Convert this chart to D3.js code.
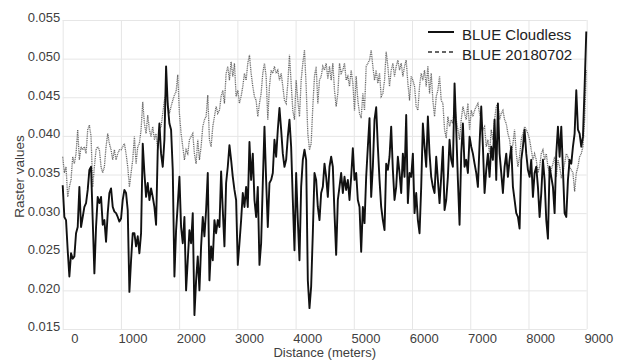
<!DOCTYPE html>
<html>
<head>
<meta charset="utf-8">
<script src="https://cdn.jsdelivr.net/npm/d3@7"></script>
<style>
  body { margin: 0; background: #fff; }
  svg { display: block; font-family: "Liberation Sans", Arial, sans-serif; }
</style>
</head>
<body>
<svg id="chart" width="623" height="360"></svg>
<script>
// profile sampled every ~28.6 m, starting at the left edge of the plot
const startDistance = -200;
const sampleSpacing = 28.64;

const cloudless = [
  0.0336,0.0295,0.0291,0.0252,0.0218,0.0248,0.0241,0.0244,0.0274,0.0282,
  0.0334,0.0282,0.0295,0.0308,0.0313,0.0330,0.0356,0.0360,0.0291,0.0222,
  0.0282,0.0321,0.0313,0.0321,0.0285,0.0291,0.0263,0.0300,0.0326,0.0332,
  0.0308,0.0302,0.0300,0.0295,0.0289,0.0293,0.0317,0.0330,0.0326,0.0304,
  0.0198,0.0239,0.0274,0.0274,0.0257,0.0270,0.0248,0.0274,0.0390,0.0352,
  0.0321,0.0339,0.0317,0.0332,0.0321,0.0308,0.0285,0.0382,0.0416,0.0377,
  0.0360,0.0395,0.0490,0.0440,0.0416,0.0408,0.0356,0.0218,0.0278,0.0311,
  0.0347,0.0282,0.0261,0.0295,0.0200,0.0239,0.0278,0.0261,0.0300,
  0.0168,0.0213,0.0244,0.0200,0.0257,0.0295,0.0270,0.0304,0.0352,0.0213,
  0.0257,0.0239,0.0291,0.0274,0.0291,0.0282,0.0354,0.0304,0.0257,0.0339,
  0.0360,0.0388,0.0369,0.0347,0.0330,0.0317,0.0233,0.0261,0.0291,0.0326,
  0.0308,0.0334,0.0308,0.0392,0.0343,0.0377,0.0317,0.0295,0.0334,0.0233,
  0.0261,0.0339,0.0412,0.0343,0.0282,0.0339,0.0343,0.0352,0.0395,0.0373,
  0.0408,0.0436,0.0408,0.0377,0.0360,0.0369,0.0399,0.0421,0.0386,0.0317,
  0.0252,0.0352,0.0291,0.0239,0.0334,0.0369,0.0382,0.0369,0.0213,0.0177,
  0.0205,0.0274,0.0352,0.0343,0.0308,0.0291,0.0326,0.0334,0.0364,
  0.0347,0.0321,0.0360,0.0373,0.0360,0.0300,0.0246,0.0317,0.0334,0.0352,
  0.0326,0.0347,0.0330,0.0343,0.0317,0.0347,0.0384,0.0343,0.0352,0.0317,
  0.0308,0.0250,0.0308,0.0287,0.0347,0.0386,0.0423,0.0321,0.0360,0.0421,
  0.0437,0.0386,0.0343,0.0308,0.0291,0.0278,0.0364,0.0356,0.0373,0.0412,
  0.0356,0.0317,0.0334,0.0373,0.0352,0.0326,0.0377,0.0347,0.0427,0.0313,
  0.0352,0.0347,0.0377,0.0300,0.0326,0.0291,0.0274,0.0334,0.0416,0.0386,
  0.0360,0.0425,0.0377,0.0347,0.0334,0.0326,0.0373,0.0343,0.0313,0.0347,
  0.0386,0.0304,0.0317,0.0347,0.0395,0.0369,0.0360,0.0468,
  0.0408,0.0343,0.0285,0.0377,0.0416,0.0360,0.0369,0.0352,0.0399,0.0386,
  0.0377,0.0364,0.0352,0.0334,0.0390,0.0438,0.0386,0.0326,0.0356,0.0377,
  0.0347,0.0386,0.0369,0.0421,0.0343,0.0442,0.0377,0.0352,0.0326,0.0360,
  0.0377,0.0347,0.0369,0.0386,0.0334,0.0317,0.0300,0.0295,0.0280,0.0369,
  0.0386,0.0408,0.0377,0.0356,0.0347,0.0369,0.0321,0.0352,0.0360,0.0334,
  0.0295,0.0326,0.0369,0.0343,0.0291,0.0267,0.0360,0.0347,0.0334,0.0300,
  0.0377,0.0412,0.0373,0.0412,0.0356,0.0300,0.0295,0.0343,0.0369,0.0364,
  0.0386,0.0403,0.0459,0.0408,0.0403,0.0386,0.0399,0.0464,0.0535
];

const july02 = [
  0.0373,0.0352,0.0360,0.0321,0.0334,0.0343,0.0373,0.0364,0.0377,0.0408,
  0.0369,0.0386,0.0382,0.0386,0.0377,0.0408,0.0414,0.0399,0.0334,0.0360,
  0.0382,0.0386,0.0382,0.0360,0.0352,0.0360,0.0386,0.0403,0.0390,0.0382,
  0.0369,0.0382,0.0369,0.0377,0.0382,0.0382,0.0386,0.0390,0.0377,0.0360,
  0.0334,0.0352,0.0369,0.0399,0.0364,0.0386,0.0390,0.0408,0.0444,0.0416,
  0.0403,0.0427,0.0408,0.0399,0.0412,0.0395,0.0403,0.0382,0.0408,0.0412,
  0.0429,0.0446,0.0455,0.0442,0.0429,0.0438,0.0446,0.0453,0.0457,0.0479,
  0.0429,0.0403,0.0386,0.0369,0.0382,0.0377,0.0395,0.0399,0.0403,
  0.0377,0.0364,0.0395,0.0369,0.0386,0.0412,0.0421,0.0425,0.0453,0.0395,
  0.0386,0.0412,0.0425,0.0438,0.0429,0.0433,0.0451,0.0459,0.0442,0.0481,
  0.0490,0.0472,0.0496,0.0477,0.0494,0.0451,0.0459,0.0442,0.0451,0.0464,
  0.0481,0.0472,0.0494,0.0505,0.0481,0.0464,0.0451,0.0446,0.0425,0.0442,
  0.0455,0.0481,0.0494,0.0477,0.0421,0.0464,0.0485,0.0481,0.0490,0.0481,
  0.0485,0.0472,0.0481,0.0464,0.0446,0.0442,0.0468,0.0505,0.0468,0.0433,
  0.0421,0.0472,0.0446,0.0425,0.0472,0.0494,0.0511,0.0464,0.0403,0.0382,
  0.0390,0.0438,0.0477,0.0490,0.0442,0.0472,0.0477,0.0490,0.0485,
  0.0494,0.0474,0.0490,0.0472,0.0494,0.0459,0.0438,0.0455,0.0494,0.0481,
  0.0485,0.0494,0.0472,0.0477,0.0464,0.0485,0.0468,0.0433,0.0477,0.0446,
  0.0429,0.0423,0.0455,0.0433,0.0490,0.0494,0.0498,0.0511,0.0490,0.0472,
  0.0485,0.0468,0.0481,0.0451,0.0455,0.0472,0.0509,0.0490,0.0464,0.0485,
  0.0494,0.0477,0.0490,0.0498,0.0485,0.0494,0.0477,0.0490,0.0498,0.0468,
  0.0446,0.0477,0.0472,0.0464,0.0438,0.0433,0.0464,0.0481,0.0472,0.0485,
  0.0464,0.0490,0.0455,0.0481,0.0446,0.0425,0.0451,0.0459,0.0477,0.0446,
  0.0442,0.0408,0.0397,0.0425,0.0412,0.0421,0.0416,0.0442,
  0.0421,0.0408,0.0395,0.0421,0.0438,0.0429,0.0421,0.0442,0.0408,0.0433,
  0.0425,0.0433,0.0438,0.0442,0.0429,0.0421,0.0408,0.0412,0.0386,0.0395,
  0.0377,0.0408,0.0395,0.0421,0.0438,0.0442,0.0421,0.0429,0.0433,0.0421,
  0.0416,0.0403,0.0395,0.0377,0.0390,0.0408,0.0377,0.0360,0.0373,0.0395,
  0.0403,0.0412,0.0408,0.0403,0.0395,0.0382,0.0369,0.0377,0.0369,0.0352,
  0.0360,0.0377,0.0382,0.0369,0.0377,0.0360,0.0352,0.0356,0.0364,0.0373,
  0.0347,0.0369,0.0360,0.0347,0.0352,0.0364,0.0377,0.0373,0.0360,0.0356,
  0.0352,0.0328,0.0352,0.0360,0.0373,0.0377,0.0386,0.0421,0.0485
];

const seriesNames = ['BLUE Cloudless', 'BLUE 20180702'];
const xTickLabels = [0, 1000, 2000, 3000, 4000, 5000, 6000, 7000, 8000, 9000];
const xGridLines = [-200, 800, 1800, 2800, 3800, 4800, 5800, 6800, 7800, 8800];
const yTicks = [0.015, 0.020, 0.025, 0.030, 0.035, 0.040, 0.045, 0.050, 0.055];

const svg = d3.select('#chart'),
  plot = {left: 62.7, right: 586.7, top: 20, bottom: 329};

const x = d3.scaleLinear().domain([-200, 8800]).range([plot.left, plot.right]);
const y = d3.scaleLinear().domain([0.015, 0.055]).range([plot.bottom, plot.top]);

const distance = cloudless.map((v, i) => startDistance + i * sampleSpacing);

// grid
svg.append('g')
  .attr('transform', 'translate(0,' + plot.bottom + ')')
  .call(d3.axisBottom(x).tickValues(xGridLines).tickSize(-(plot.bottom - plot.top)).tickFormat(''))
  .call(g => g.select('.domain').remove())
  .call(g => g.selectAll('line').attr('stroke', '#e6e6e6'));

svg.append('g')
  .attr('transform', 'translate(' + plot.left + ',0)')
  .call(d3.axisLeft(y).tickValues(yTicks).tickSize(-(plot.right - plot.left)).tickFormat(''))
  .call(g => g.select('.domain').remove())
  .call(g => g.selectAll('line').attr('stroke', '#e6e6e6'));

// tick labels
svg.append('g')
  .attr('transform', 'translate(0,' + plot.bottom + ')')
  .call(d3.axisBottom(x).tickValues(xTickLabels).tickSize(0).tickPadding(5).tickFormat(d3.format('d')))
  .call(g => g.select('.domain').remove())
  .call(g => g.selectAll('text').attr('fill', '#404040').style('font-size', '13px'));

svg.append('g')
  .attr('transform', 'translate(' + (plot.left - 2.5) + ',0)')
  .call(d3.axisLeft(y).tickValues(yTicks).tickSize(0).tickPadding(0).tickFormat(d3.format('.3f')))
  .call(g => g.select('.domain').remove())
  .call(g => g.selectAll('text').attr('fill', '#404040').attr('dy', '0.15em').style('font-size', '13px'));

// axis titles
svg.append('text')
  .attr('x', (plot.left + plot.right) / 2)
  .attr('y', 357)
  .attr('text-anchor', 'middle')
  .attr('fill', '#404040')
  .style('font-size', '13px')
  .text('Distance (meters)');

svg.append('text')
  .attr('transform', 'translate(24,' + ((plot.top + plot.bottom) / 2 + 2) + ') rotate(-90)')
  .attr('text-anchor', 'middle')
  .attr('fill', '#404040')
  .style('font-size', '13.5px')
  .text('Raster values');

// lines
const line = d3.line()
  .x((d, i) => x(distance[i]))
  .y(d => y(d));

svg.append('path')
  .datum(july02)
  .attr('fill', 'none')
  .attr('stroke', '#666')
  .attr('stroke-width', 1.3)
  .attr('stroke-dasharray', '1,0.8')
  .attr('d', line);

svg.append('path')
  .datum(cloudless)
  .attr('fill', 'none')
  .attr('stroke', '#111')
  .attr('stroke-width', 1.9)
  .attr('stroke-linejoin', 'round')
  .attr('d', line);

// legend
const legend = svg.append('g').attr('transform', 'translate(428,32)');
legend.append('line').attr('x1', 0).attr('x2', 26).attr('y1', 0).attr('y2', 0)
  .attr('stroke', '#111').attr('stroke-width', 2);
legend.append('line').attr('x1', 0).attr('x2', 26).attr('y1', 20).attr('y2', 20)
  .attr('stroke', '#333').attr('stroke-width', 1.6).attr('stroke-dasharray', '4,3');
legend.selectAll('text.lbl')
  .data(seriesNames)
  .enter().append('text')
  .attr('class', 'lbl')
  .attr('x', 34)
  .attr('y', (d, i) => 7.5 + i * 20)
  .attr('fill', '#222')
  .style('font-size', '15px')
  .text(d => d);
</script>
</body>
</html>
